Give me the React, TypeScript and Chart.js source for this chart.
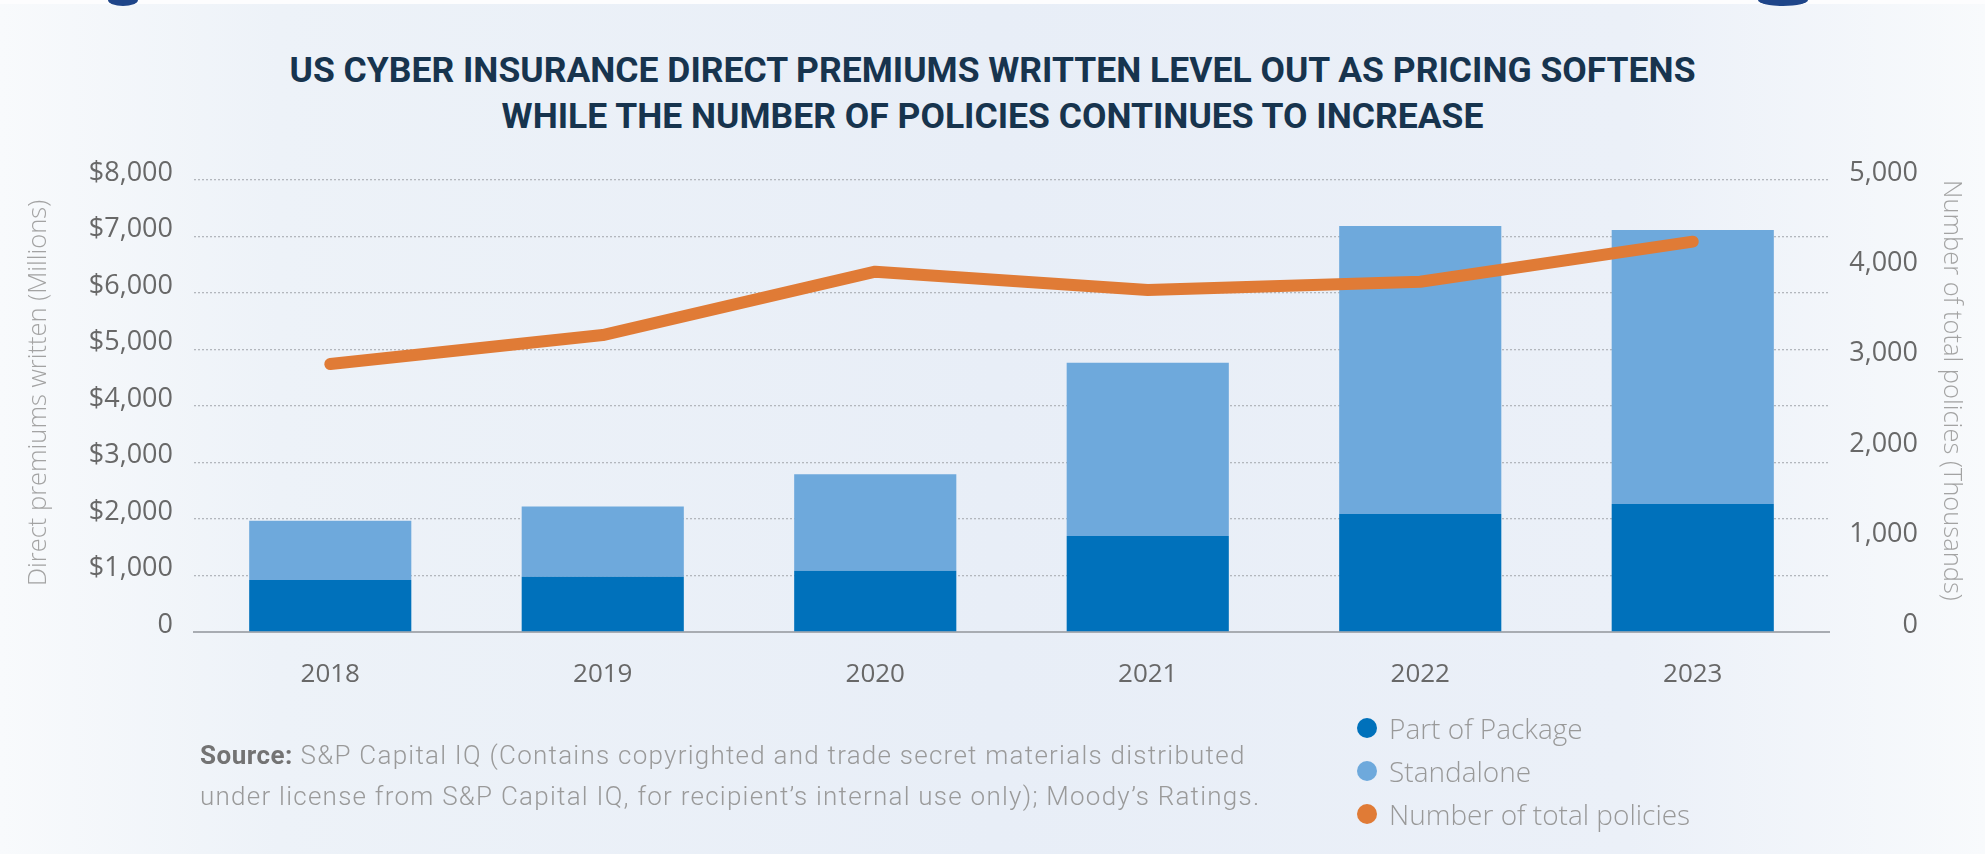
import React, { useEffect, useRef } from "react";
import { Chart, registerables } from "chart.js";

Chart.register(...registerables);

// ---- Data ----
const years = ["2018", "2019", "2020", "2021", "2022", "2023"];
const partOfPackage = [920, 980, 1085, 1700, 2090, 2265];
const standalone = [1050, 1240, 1705, 3066, 5096, 4850];
const totalPolicies = [2965, 3285, 3986, 3783, 3875, 4318];

const titleLines = [
  "US CYBER INSURANCE DIRECT PREMIUMS WRITTEN LEVEL OUT AS PRICING SOFTENS",
  "WHILE THE NUMBER OF POLICIES CONTINUES TO INCREASE",
];
const leftAxisTitle = "Direct premiums written (Millions)";
const rightAxisTitle = "Number of total policies (Thousands)";
const sourceLabel = "Source:";
const sourceLine1 = " S&P Capital IQ (Contains copyrighted and trade secret materials distributed";
const sourceLine2 = "under license from S&P Capital IQ, for recipient\u2019s internal use only); Moody\u2019s Ratings.";
const legendLabels = ["Part of Package", "Standalone", "Number of total policies"];

// ---- Styles ----
const DARK_BLUE = "#0071BB";
const LIGHT_BLUE = "#6EA9DC";
const ORANGE = "#E07B36";
const legendColors = [DARK_BLUE, LIGHT_BLUE, ORANGE];

const xTickFont = { family: "'Open Sans', sans-serif", size: 26, weight: 400 as const };
const yTickFont = { family: "'Open Sans', sans-serif", size: 27, weight: 400 as const };
const axisTitleFont = { family: "'Open Sans', sans-serif", size: 25.5, weight: 300 as const };

export default function App() {
  const canvasRef = useRef<HTMLCanvasElement>(null);

  useEffect(() => {
    const chart = new Chart(canvasRef.current!, {
      type: "bar",
      data: {
        labels: years,
        datasets: [
          {
            type: "line",
            label: legendLabels[2],
            data: totalPolicies,
            yAxisID: "y2",
            borderColor: ORANGE,
            backgroundColor: ORANGE,
            borderWidth: 12,
            pointRadius: 0,
            tension: 0,
            borderCapStyle: "round",
            borderJoinStyle: "round",
            order: 0,
          } as any,
          {
            type: "bar",
            label: legendLabels[0],
            data: partOfPackage,
            yAxisID: "y",
            backgroundColor: DARK_BLUE,
            barPercentage: 0.595,
            categoryPercentage: 1,
            stack: "prem",
            order: 1,
          },
          {
            type: "bar",
            label: legendLabels[1],
            data: standalone,
            yAxisID: "y",
            backgroundColor: LIGHT_BLUE,
            barPercentage: 0.595,
            categoryPercentage: 1,
            stack: "prem",
            order: 2,
          },
        ],
      },
      options: {
        animation: false,
        responsive: false,
        maintainAspectRatio: false,
        layout: { padding: { top: 180, right: 67, bottom: 0, left: 0 } },
        plugins: {
          legend: { display: false },
          tooltip: { enabled: false },
          title: { display: false },
        },
        scales: {
          x: {
            stacked: true,
            grid: { display: false, drawTicks: false },
            border: { display: true, color: "#a8acb2", width: 2 },
            ticks: { font: xTickFont, color: "#686868", padding: 27 },
            afterFit: (s: any) => {
              s.height = 222;
            },
          },
          y: {
            stacked: true,
            min: 0,
            max: 8000,
            ticks: {
              stepSize: 1000,
              font: yTickFont,
              color: "#686868",
              padding: 21,
              labelOffset: -7,
              callback: (v: any) => (v === 0 ? "0" : "$" + Number(v).toLocaleString("en-US")),
            },
            grid: { color: "#b3b7bd", lineWidth: 1.3, drawTicks: false },
            border: { display: false, dash: [2, 2] },
            title: {
              display: true,
              text: leftAxisTitle + "\u00a0\u00a0\u00a0",
              color: "#a3a3a3",
              font: axisTitleFont,
              align: "end",
              padding: { top: 23, bottom: 0 },
            },
            afterFit: (s: any) => {
              s.width = 194;
            },
          },
          y2: {
            position: "right",
            min: 0,
            max: 5000,
            ticks: {
              stepSize: 1000,
              font: yTickFont,
              color: "#686868",
              crossAlign: "far",
              labelOffset: -7,
              callback: (v: any) => Number(v).toLocaleString("en-US"),
            },
            grid: { display: false, drawTicks: false },
            border: { display: false },
            title: {
              display: true,
              text: rightAxisTitle,
              color: "#a3a3a3",
              font: axisTitleFont,
              align: "end",
              padding: { top: -49, bottom: 0 },
            },
            afterFit: (s: any) => {
              s.width = 89;
            },
          },
        },
      },
    });
    return () => chart.destroy();
  }, []);

  return (
    <div
      style={{
        position: "absolute",
        left: 0,
        top: 0,
        width: 1985,
        height: 854,
        overflow: "hidden",
        background:
          "linear-gradient(90deg, #f8fafc 0%, #edf2f8 14%, #e8eef7 50%, #ebf0f8 82%, #f8fafc 100%)",
      }}
    >
      <div style={{ position: "absolute", left: 0, top: 0, width: 1985, height: 4, background: "#fdfdfe" }} />
      <div
        style={{
          position: "absolute",
          left: 108,
          top: 0,
          width: 30,
          height: 6,
          background: "#1e4589",
          borderRadius: "0 0 15px 15px / 0 0 6px 6px",
        }}
      />
      <div
        style={{
          position: "absolute",
          left: 1758,
          top: 0,
          width: 50,
          height: 6,
          background: "#1e4589",
          borderRadius: "0 0 25px 25px / 0 0 6px 6px",
        }}
      />
      <div
        style={{
          position: "absolute",
          left: 0,
          top: 47,
          width: 1985,
          textAlign: "center",
          fontFamily: "Roboto, sans-serif",
          fontWeight: 700,
          fontSize: 35.5,
          lineHeight: "46px",
          color: "#17344e",
        }}
      >
        {titleLines.map((t) => (
          <div key={t}>{t}</div>
        ))}
      </div>
      <canvas
        ref={canvasRef}
        width={1985}
        height={854}
        style={{ position: "absolute", left: 0, top: 0, width: 1985, height: 854 }}
      />
      <div
        style={{
          position: "absolute",
          left: 200,
          top: 735,
          fontFamily: "Roboto, sans-serif",
          fontWeight: 300,
          fontSize: 26,
          letterSpacing: "1.25px",
          lineHeight: "41px",
          color: "#9a9a9a",
          whiteSpace: "nowrap",
        }}
      >
        <div>
          <span style={{ fontWeight: 700, color: "#737373", letterSpacing: "0.5px" }}>{sourceLabel}</span>
          {sourceLine1}
        </div>
        <div>{sourceLine2}</div>
      </div>
      {legendLabels.map((lbl, i) => (
        <div
          key={lbl}
          style={{
            position: "absolute",
            left: 1357,
            top: 728 + i * 43 - 18,
            height: 36,
            display: "flex",
            alignItems: "center",
            fontFamily: "'Open Sans', sans-serif",
            fontWeight: 300,
            fontSize: 28,
            color: "#999999",
            whiteSpace: "nowrap",
          }}
        >
          <span
            style={{
              display: "inline-block",
              width: 20,
              height: 20,
              borderRadius: 10,
              background: legendColors[i],
              marginRight: 12,
            }}
          />
          {lbl}
        </div>
      ))}
    </div>
  );
}
